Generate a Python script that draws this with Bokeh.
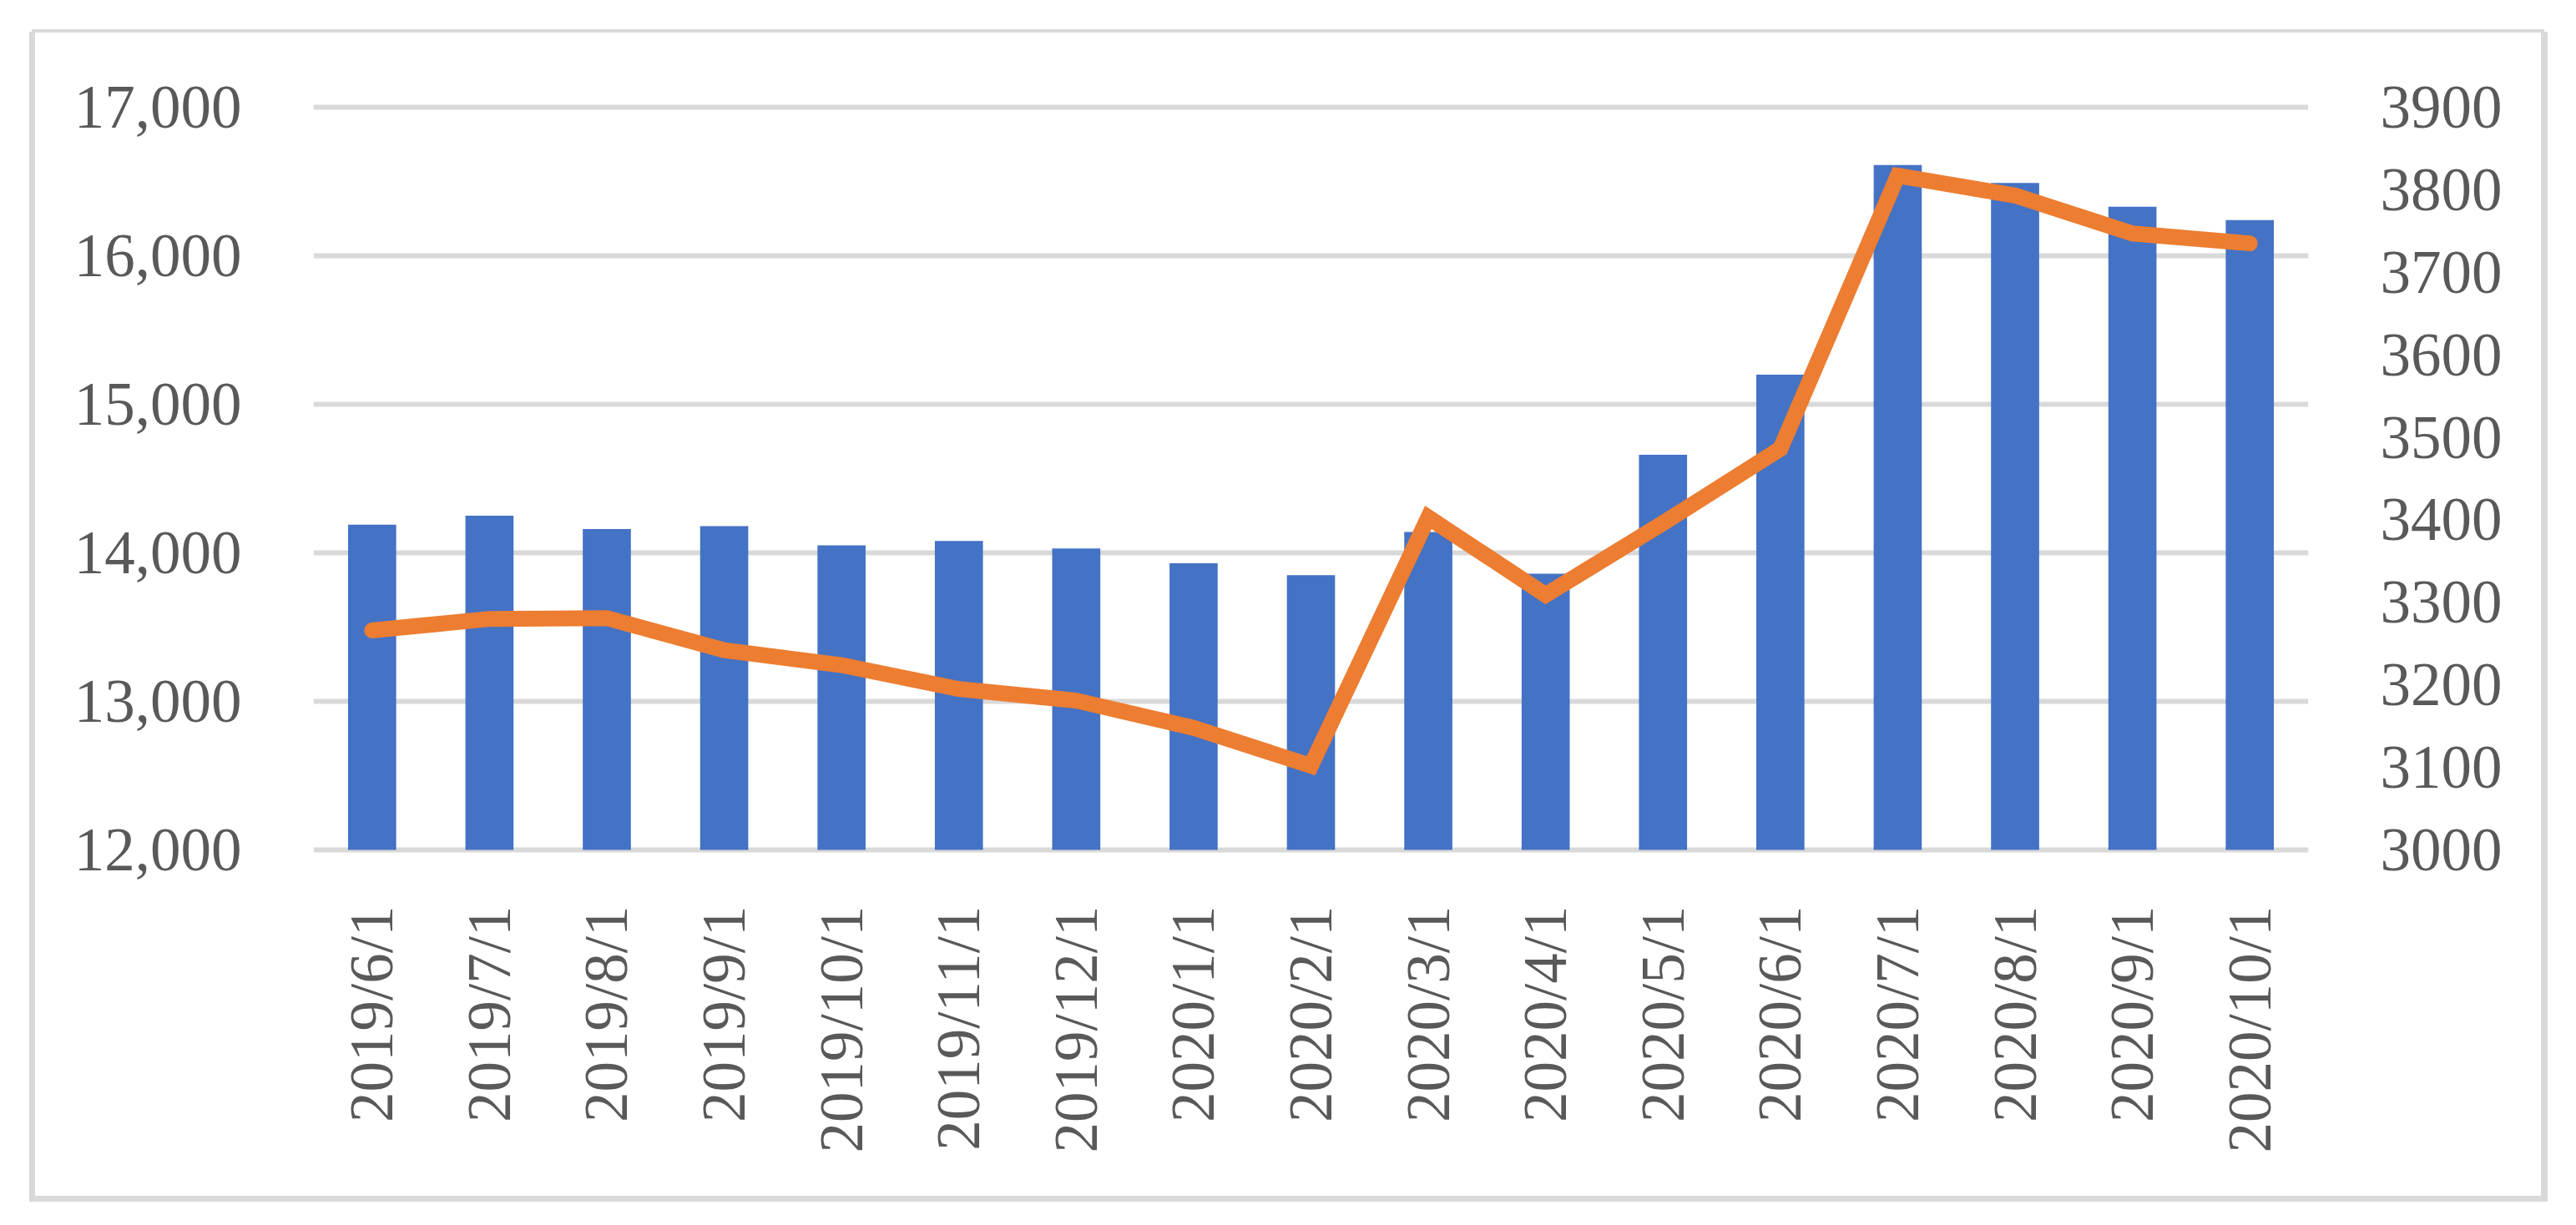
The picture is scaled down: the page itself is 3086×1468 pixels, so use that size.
from math import pi
from bokeh.plotting import figure
from bokeh.models import (Range1d, LinearAxis, FixedTicker,
                          NumeralTickFormatter, FactorRange, ColumnDataSource)
from bokeh.embed import file_html
from bokeh.resources import INLINE

# ---- data ----
months = ["2019/6/1", "2019/7/1", "2019/8/1", "2019/9/1", "2019/10/1", "2019/11/1",
          "2019/12/1", "2020/1/1", "2020/2/1", "2020/3/1", "2020/4/1", "2020/5/1",
          "2020/6/1", "2020/7/1", "2020/8/1", "2020/9/1", "2020/10/1"]
bar_values = [14190, 14250, 14160, 14180, 14050, 14080, 14030, 13930, 13850,
              14140, 13860, 14660, 15200, 16610, 16490, 16330, 16240]
line_values = [3266, 3280, 3281, 3242, 3224, 3195, 3181, 3148, 3102,
               3403, 3309, 3396, 3486, 3817, 3793, 3747, 3735]
left_ticks = [12000, 13000, 14000, 15000, 16000, 17000]
right_ticks = [3000, 3100, 3200, 3300, 3400, 3500, 3600, 3700, 3800, 3900]

# ---- styles ----
BAR = "#4472C4"
LINE = "#ED7D31"
GRID = "#D9D9D9"
TEXT = "#595959"
FONT = "Liberation Serif"
FS = "73px"

left_lo, left_hi = 11888, 17112
# right axis: 12000 <-> 3000, 17000 <-> 3900
def to_right(v):
    return 3000 + (v - 12000) * (900 / 5000)

src = ColumnDataSource(dict(m=months, b=bar_values, l=line_values))

p = figure(width=3002, height=1394, x_range=FactorRange(*months),
           y_range=Range1d(left_lo, left_hi),
           output_backend="svg", toolbar_location=None,
           min_border_left=333, min_border_right=279,
           min_border_top=69, min_border_bottom=395)
p.extra_y_ranges = {"right": Range1d(to_right(left_lo), to_right(left_hi))}
p.outline_line_color = None
p.background_fill_color = "white"
p.border_fill_color = "white"

# light grey chart-area frame around the figure
p.styles = {
    "margin-left": "42px",
    "margin-top": "39px",
    "box-shadow": (f"0 0 0 4px {GRID}, -3px 3px 0 4px {GRID}, "
                   f"4px 3px 0 4px {GRID}"),
}

p.vbar(x="m", top="b", bottom=12000, width=0.41, source=src,
       fill_color=BAR, line_color=None)
p.line(x="m", y="l", source=src, y_range_name="right", line_color=LINE,
       line_width=19, line_cap="round", line_join="miter")

# grid
p.xgrid.grid_line_color = None
p.ygrid.ticker = FixedTicker(ticks=left_ticks)
p.ygrid.grid_line_color = GRID
p.ygrid.grid_line_width = 6

# left axis
ya = p.yaxis[0]
ya.ticker = FixedTicker(ticks=left_ticks)
ya.formatter = NumeralTickFormatter(format="0,0")
ya.axis_line_color = None
ya.major_tick_line_color = None
ya.minor_tick_line_color = None
ya.major_label_standoff = 80
ya.major_label_text_font = FONT
ya.major_label_text_font_size = FS
ya.major_label_text_color = TEXT

# right axis
ra = LinearAxis(y_range_name="right", ticker=FixedTicker(ticks=right_ticks))
ra.formatter = NumeralTickFormatter(format="0")
ra.axis_line_color = None
ra.major_tick_line_color = None
ra.minor_tick_line_color = None
ra.major_label_standoff = 80
ra.major_label_text_font = FONT
ra.major_label_text_font_size = FS
ra.major_label_text_color = TEXT
p.add_layout(ra, "right")

# x axis
xa = p.xaxis[0]
xa.axis_line_color = None
xa.major_tick_line_color = None
xa.minor_tick_line_color = None
xa.major_label_orientation = pi / 2
xa.major_label_standoff = 41
xa.major_label_text_font = FONT
xa.major_label_text_font_size = FS
xa.major_label_text_color = TEXT

open("out.html", "w").write(file_html(p, INLINE))
